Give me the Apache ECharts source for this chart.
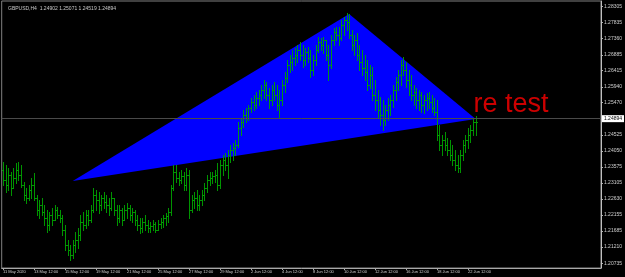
<!DOCTYPE html>
<html><head><meta charset="utf-8">
<script src="https://cdn.jsdelivr.net/npm/echarts@6/dist/echarts.min.js"></script>
<style>html,body{margin:0;padding:0;background:#000}#c{width:625px;height:277px}</style>
</head><body><div id="c"></div>
<script>
const symbolTitle = 'GBPUSD,H4  1.24902 1.25071 1.24519 1.24894';
const xTickLabels = ['11 May 2020','13 May 12:00','15 May 12:00','19 May 12:00','21 May 12:00','25 May 12:00','27 May 12:00','29 May 12:00','2 Jun 12:00','4 Jun 12:00','8 Jun 12:00','10 Jun 12:00','12 Jun 12:00','16 Jun 12:00','18 Jun 12:00','22 Jun 12:00'];
const priceTicks = [1.20735,1.21210,1.21685,1.22155,1.22630,1.23105,1.23575,1.24050,1.24525,1.24995,1.25470,1.25940,1.26415,1.26885,1.27360,1.27835,1.28305];
const lastPrice = 1.24894;
const triangle = [[27,1.2316],[134,1.2809],[183,1.2499]];
const notes = [{text:'re test', index:182, price:1.2543}];
const totalSlots = 232;

const open = [1.2348,1.2319,1.2304,1.2334,1.2295,1.2325,1.2348,1.2334,1.2304,1.2275,
1.2266,1.2289,1.2304,1.2266,1.2230,1.2245,1.2225,1.2207,1.2186,1.2216,
1.2201,1.2230,1.2216,1.2207,1.2171,1.2127,1.2112,1.2098,1.2127,1.2142,
1.2157,1.2195,1.2186,1.2216,1.2201,1.2230,1.2275,1.2260,1.2245,1.2266,
1.2254,1.2245,1.2236,1.2266,1.2230,1.2207,1.2230,1.2201,1.2230,1.2236,
1.2216,1.2225,1.2201,1.2186,1.2177,1.2195,1.2186,1.2177,1.2183,1.2189,
1.2171,1.2189,1.2195,1.2207,1.2213,1.2225,1.2295,1.2343,1.2325,1.2319,
1.2331,1.2304,1.2334,1.2230,1.2260,1.2266,1.2245,1.2260,1.2275,1.2295,
1.2319,1.2325,1.2331,1.2334,1.2304,1.2363,1.2378,1.2363,1.2393,1.2407,
1.2413,1.2422,1.2472,1.2490,1.2511,1.2502,1.2531,1.2549,1.2540,1.2561,
1.2570,1.2584,1.2599,1.2570,1.2555,1.2584,1.2570,1.2540,1.2555,1.2599,
1.2620,1.2658,1.2667,1.2679,1.2688,1.2702,1.2688,1.2673,1.2697,1.2679,
1.2643,1.2673,1.2702,1.2726,1.2717,1.2732,1.2688,1.2658,1.2732,1.2756,
1.2747,1.2738,1.2776,1.2791,1.2785,1.2747,1.2717,1.2732,1.2688,1.2667,
1.2649,1.2638,1.2599,1.2629,1.2570,1.2555,1.2525,1.2511,1.2496,1.2525,
1.2540,1.2555,1.2584,1.2608,1.2629,1.2658,1.2643,1.2614,1.2599,1.2570,
1.2579,1.2555,1.2570,1.2540,1.2555,1.2561,1.2549,1.2531,1.2520,1.2452,
1.2422,1.2437,1.2422,1.2407,1.2393,1.2378,1.2363,1.2354,1.2393,1.2422,
1.2437,1.2452,1.2466,1.24902];
const high = [1.2372,1.2363,1.2354,1.2343,1.2354,1.2369,1.2372,1.2363,1.2313,1.2295,
1.2304,1.2325,1.2340,1.2275,1.2260,1.2266,1.2245,1.2230,1.2225,1.2236,
1.2245,1.2239,1.2230,1.2216,1.2186,1.2142,1.2127,1.2142,1.2166,1.2177,
1.2216,1.2225,1.2230,1.2230,1.2245,1.2295,1.2289,1.2284,1.2275,1.2284,
1.2275,1.2266,1.2284,1.2266,1.2245,1.2245,1.2236,1.2245,1.2251,1.2245,
1.2236,1.2230,1.2216,1.2207,1.2207,1.2216,1.2201,1.2195,1.2201,1.2195,
1.2201,1.2207,1.2216,1.2222,1.2236,1.2304,1.2363,1.2363,1.2343,1.2348,
1.2343,1.2354,1.2348,1.2275,1.2284,1.2289,1.2275,1.2289,1.2310,1.2334,
1.2343,1.2343,1.2348,1.2369,1.2378,1.2393,1.2399,1.2407,1.2422,1.2428,
1.2437,1.2490,1.2502,1.2525,1.2531,1.2540,1.2561,1.2570,1.2579,1.2584,
1.2599,1.2614,1.2608,1.2590,1.2599,1.2608,1.2599,1.2584,1.2614,1.2638,
1.2673,1.2688,1.2702,1.2708,1.2717,1.2726,1.2717,1.2708,1.2711,1.2702,
1.2688,1.2717,1.2741,1.2738,1.2741,1.2732,1.2717,1.2747,1.2767,1.2770,
1.2770,1.2791,1.2800,1.2812,1.2809,1.2761,1.2747,1.2753,1.2717,1.2702,
1.2688,1.2673,1.2658,1.2652,1.2614,1.2584,1.2564,1.2555,1.2540,1.2561,
1.2570,1.2599,1.2623,1.2643,1.2673,1.2682,1.2667,1.2643,1.2629,1.2599,
1.2590,1.2584,1.2579,1.2570,1.2576,1.2579,1.2570,1.2561,1.2555,1.2481,
1.2452,1.2461,1.2443,1.2437,1.2422,1.2407,1.2393,1.2407,1.2437,1.2452,
1.2472,1.2481,1.2502,1.25071];
const low = [1.2304,1.2284,1.2289,1.2275,1.2295,1.2310,1.2319,1.2298,1.2260,1.2251,
1.2260,1.2266,1.2260,1.2216,1.2207,1.2216,1.2186,1.2166,1.2171,1.2186,
1.2201,1.2207,1.2195,1.2157,1.2112,1.2098,1.2083,1.2089,1.2107,1.2118,
1.2142,1.2171,1.2177,1.2186,1.2195,1.2225,1.2230,1.2222,1.2230,1.2236,
1.2225,1.2216,1.2230,1.2216,1.2186,1.2195,1.2186,1.2201,1.2207,1.2201,
1.2195,1.2186,1.2171,1.2163,1.2166,1.2171,1.2166,1.2166,1.2171,1.2166,
1.2171,1.2177,1.2180,1.2186,1.2195,1.2216,1.2289,1.2313,1.2304,1.2310,
1.2289,1.2289,1.2207,1.2225,1.2236,1.2230,1.2230,1.2245,1.2260,1.2284,
1.2304,1.2310,1.2313,1.2289,1.2295,1.2334,1.2348,1.2325,1.2372,1.2378,
1.2393,1.2416,1.2452,1.2475,1.2490,1.2496,1.2520,1.2525,1.2531,1.2540,
1.2555,1.2561,1.2555,1.2531,1.2540,1.2555,1.2525,1.2502,1.2540,1.2579,
1.2608,1.2638,1.2643,1.2658,1.2667,1.2673,1.2652,1.2658,1.2667,1.2623,
1.2629,1.2658,1.2697,1.2702,1.2694,1.2673,1.2614,1.2649,1.2717,1.2732,
1.2717,1.2732,1.2747,1.2761,1.2738,1.2702,1.2688,1.2673,1.2643,1.2629,
1.2614,1.2584,1.2590,1.2555,1.2525,1.2502,1.2481,1.2466,1.2481,1.2496,
1.2511,1.2534,1.2555,1.2584,1.2599,1.2629,1.2593,1.2570,1.2555,1.2540,
1.2531,1.2525,1.2520,1.2517,1.2525,1.2531,1.2520,1.2511,1.2437,1.2407,
1.2393,1.2407,1.2393,1.2378,1.2363,1.2348,1.2343,1.2343,1.2378,1.2402,
1.2413,1.2431,1.2452,1.24519];
const close = [1.2319,1.2304,1.2334,1.2295,1.2325,1.2348,1.2334,1.2304,1.2275,1.2266,
1.2289,1.2304,1.2266,1.2230,1.2245,1.2225,1.2207,1.2186,1.2216,1.2201,
1.2230,1.2216,1.2207,1.2171,1.2127,1.2112,1.2098,1.2127,1.2142,1.2157,
1.2195,1.2186,1.2216,1.2201,1.2230,1.2275,1.2260,1.2245,1.2266,1.2254,
1.2245,1.2236,1.2266,1.2230,1.2207,1.2230,1.2201,1.2230,1.2236,1.2216,
1.2225,1.2201,1.2186,1.2177,1.2195,1.2186,1.2177,1.2183,1.2189,1.2171,
1.2189,1.2195,1.2207,1.2213,1.2225,1.2295,1.2343,1.2325,1.2319,1.2331,
1.2304,1.2334,1.2230,1.2260,1.2266,1.2245,1.2260,1.2275,1.2295,1.2319,
1.2325,1.2331,1.2334,1.2304,1.2363,1.2378,1.2363,1.2393,1.2407,1.2413,
1.2422,1.2472,1.2490,1.2511,1.2502,1.2531,1.2549,1.2540,1.2561,1.2570,
1.2584,1.2599,1.2570,1.2555,1.2584,1.2570,1.2540,1.2555,1.2599,1.2620,
1.2658,1.2667,1.2679,1.2688,1.2702,1.2688,1.2673,1.2697,1.2679,1.2643,
1.2673,1.2702,1.2726,1.2717,1.2732,1.2688,1.2658,1.2732,1.2756,1.2747,
1.2738,1.2776,1.2791,1.2785,1.2747,1.2717,1.2732,1.2688,1.2667,1.2649,
1.2638,1.2599,1.2629,1.2570,1.2555,1.2525,1.2511,1.2496,1.2525,1.2540,
1.2555,1.2584,1.2608,1.2629,1.2658,1.2643,1.2614,1.2599,1.2570,1.2579,
1.2555,1.2570,1.2540,1.2555,1.2561,1.2549,1.2531,1.2520,1.2452,1.2422,
1.2437,1.2422,1.2407,1.2393,1.2378,1.2363,1.2354,1.2393,1.2422,1.2437,
1.2452,1.2466,1.2490,1.24894];

// bar times (H4, weekdays only) as category names
const MONTHS = ['Jan','Feb','Mar','Apr','May','Jun','Jul','Aug','Sep','Oct','Nov','Dec'];
const categories = [];
(function(){
  let t = Date.UTC(2020,4,11,12);
  while (categories.length < totalSlots) {
    const d = new Date(t), wd = d.getUTCDay();
    if (wd !== 0 && wd !== 6) {
      categories.push(d.getUTCDate()+' '+MONTHS[d.getUTCMonth()]+' '+String(d.getUTCHours()).padStart(2,'0')+':00');
    }
    t += 4*3600e3;
  }
})();

const barData = open.map((o,i)=>[i,o,high[i],low[i],close[i]]);
const isTick = i => i % 12 === 0 && i/12 < xTickLabels.length;
const FONT = 'Liberation Sans';

const chart = echarts.init(document.getElementById('c'), null, {renderer:'canvas'});
chart.setOption({
  backgroundColor:'#000000',
  animation:false,
  title:{text:symbolTitle, left:3, top:1, textStyle:{fontSize:5, color:'#c8c8c8', fontWeight:'normal', fontFamily:FONT}},
  grid:{left:1, right:21, top:1, bottom:9, show:true, borderColor:'#808080', borderWidth:1, backgroundColor:'#000'},
  xAxis:{type:'category', data:categories, boundaryGap:true,
    axisLine:{show:true, lineStyle:{color:'#a8a8a8', width:1}},
    axisTick:{show:true, length:2, alignWithLabel:true, interval:(i)=>isTick(i), lineStyle:{color:'#a8a8a8'}},
    axisLabel:{interval:(i)=>isTick(i), formatter:(v,i)=>xTickLabels[i/12], align:'left', fontSize:4, color:'#d0d0d0', margin:2, fontFamily:FONT, hideOverlap:false},
    splitLine:{show:false}},
  yAxis:{type:'value', position:'right', min:1.20594, max:1.28471,
    axisLine:{show:true, lineStyle:{color:'#c0c0c0'}},
    axisTick:{show:true, length:2, customValues:priceTicks, lineStyle:{color:'#c0c0c0'}},
    axisLabel:{customValues:priceTicks, formatter:v=>v.toFixed(5), fontSize:5, color:'#d0d0d0', margin:3, fontFamily:FONT},
    splitLine:{show:false}},
  series:[
    {type:'custom', name:'triangle', z:1, silent:true,
     encode:{x:[0,2,4], y:[1,3,5]},
     data:[[triangle[0][0],triangle[0][1],triangle[1][0],triangle[1][1],triangle[2][0],triangle[2][1]]],
     renderItem:(params, api)=>{
       const pts=[0,1,2].map(k=>api.coord([api.value(2*k), api.value(2*k+1)]));
       return {type:'polygon', shape:{points:pts}, style:{fill:'#0000ff'}};
     }},
    {type:'line', name:'level', z:2, data:[], silent:true,
     markLine:{silent:true, symbol:['none','none'], animation:false,
       lineStyle:{color:'#4a4a4a', width:1, type:'solid'},
       label:{show:true, position:'end', distance:1, formatter:()=>lastPrice.toFixed(5), backgroundColor:'#ffffff', color:'#000000', fontSize:5, padding:[1,2,1,2], fontFamily:FONT},
       data:[{yAxis:lastPrice}]}},
    {type:'custom', name:'bars', z:3, silent:true,
     encode:{x:0, y:[1,2,3,4]},
     data:barData,
     renderItem:(params, api)=>{
       const i=api.value(0);
       const pH=api.coord([i,api.value(2)]), pL=api.coord([i,api.value(3)]);
       const pO=api.coord([i,api.value(1)]), pC=api.coord([i,api.value(4)]);
       const x=Math.round(pH[0])+0.5;
       const yo=Math.round(pO[1])+0.5, yc=Math.round(pC[1])+0.5;
       const style={stroke:'#00a400', lineWidth:1, opacity:0.9};
       return {type:'group', children:[
         {type:'line', shape:{x1:x, y1:Math.round(pH[1]), x2:x, y2:Math.round(pL[1])+1}, style},
         {type:'line', shape:{x1:x-1.5, y1:yo, x2:x, y2:yo}, style},
         {type:'line', shape:{x1:x, y1:yc, x2:x+1.5, y2:yc}, style}
       ]};
     }},
    {type:'scatter', name:'notes', z:4, silent:true, symbol:'circle', symbolSize:1,
     itemStyle:{color:'rgba(0,0,0,0)'},
     data:notes.map(n=>({value:[n.index, n.price], label:{formatter:n.text}})),
     label:{show:true, position:'right', distance:0, color:'#ff0000', fontSize:27, fontFamily:FONT}}
  ]
});
</script>
</body></html>
